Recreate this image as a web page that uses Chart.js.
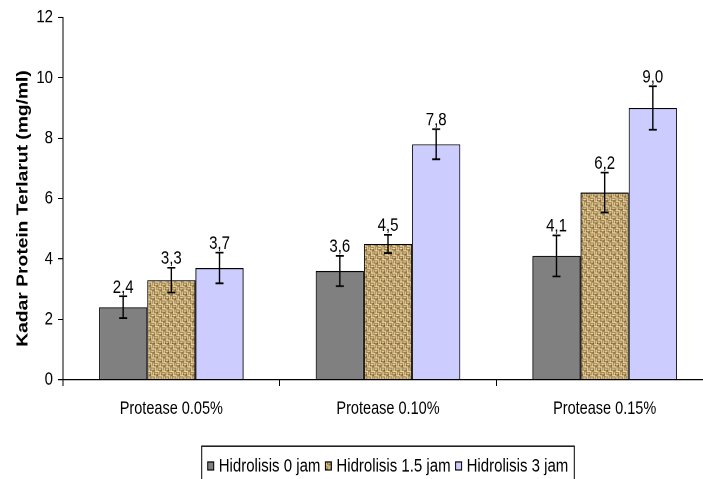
<!DOCTYPE html>
<html>
<head>
<meta charset="utf-8">
<script src="https://cdn.jsdelivr.net/npm/chart.js@4.4.1/dist/chart.umd.min.js"></script>
<style>
  html { overflow: hidden; }
  body { margin: 0; padding: 0; background: #fff; width: 703px; height: 479px; }
  /* gambar asli tampak direntang vertikal, jadi seluruh grafik direntang juga */
  #wrap { width: 716px; height: 386px; transform: scaleY(1.2409); transform-origin: 0 0; }
</style>
</head>
<body>
<div id="wrap"><canvas id="chart" width="716" height="386"></canvas></div>
<script>
const categories = ["Protease 0.05%", "Protease 0.10%", "Protease 0.15%"];
const seriesNames = ["Hidrolisis 0 jam", "Hidrolisis 1.5 jam", "Hidrolisis 3 jam"];
const jam0 = [2.4, 3.6, 4.1];
const jam15 = [3.3, 4.5, 6.2];
const jam3 = [3.7, 7.8, 9.0];
// simpangan (error bar)
const err0 = [0.36, 0.5, 0.68];
const err15 = [0.41, 0.3, 0.66];
const err3 = [0.51, 0.5, 0.72];
const yMin = 0, yMax = 12, yStep = 2;
const yTitle = "Kadar Protein Terlarut (mg/ml)";

const FONT = "'Liberation Sans', Arial, sans-serif";

const canvas = document.getElementById("chart");
const ctx = canvas.getContext("2d");

// tekstur karung (burlap) untuk seri 1.5 jam
function makeBurlap() {
  const c = document.createElement("canvas");
  c.width = 8; c.height = 8;
  const g = c.getContext("2d");
  g.fillStyle = "#9c7a44";
  g.fillRect(0, 0, 8, 8);
  for (let by = 0; by < 2; by++) {
    for (let bx = 0; bx < 2; bx++) {
      const x0 = bx * 4, y0 = by * 4;
      g.fillStyle = "#efdeae";
      if ((bx + by) % 2 === 0) {
        g.fillRect(x0, y0, 4, 1);
        g.fillRect(x0, y0 + 2, 3, 1);
      } else {
        g.fillRect(x0, y0, 1, 4);
        g.fillRect(x0 + 2, y0 + 1, 1, 3);
      }
      g.fillStyle = "#5e4320";
      g.fillRect(x0 + 3, y0 + 3, 1, 1);
    }
  }
  const p = ctx.createPattern(c, "repeat");
  p.setTransform(new DOMMatrix().scale(0.9));
  return p;
}
const burlap = makeBurlap();
const colors = ["#808080", burlap, "#ccccff"];
const errors = [err0, err15, err3];

const errorBars = {
  id: "errorBars",
  afterDatasetsDraw(chart) {
    const c = chart.ctx;
    const y = chart.scales.y;
    c.save();
    chart.data.datasets.forEach((ds, i) => {
      const meta = chart.getDatasetMeta(i);
      meta.data.forEach((bar, j) => {
        const v = ds.data[j], e = errors[i][j];
        const top = y.getPixelForValue(v + e);
        const bot = y.getPixelForValue(v - e);
        c.strokeStyle = "#000";
        c.lineWidth = 1.4;
        c.beginPath();
        c.moveTo(bar.x, top); c.lineTo(bar.x, bot);
        c.moveTo(bar.x - 4, top); c.lineTo(bar.x + 4, top);
        c.moveTo(bar.x - 4, bot); c.lineTo(bar.x + 4, bot);
        c.stroke();
        c.fillStyle = "#000";
        c.font = "15px " + FONT;
        c.textAlign = "center";
        c.textBaseline = "alphabetic";
        c.fillText(v.toFixed(1).replace(".", ","), bar.x, top - 3);
      });
    });
    c.restore();
  }
};

const extras = {
  id: "extras",
  afterDraw(chart) {
    const c = chart.ctx;
    c.save();
    // judul sumbu Y
    c.translate(23, 168);
    c.rotate(-Math.PI / 2);
    c.font = "bold 15.5px " + FONT;
    c.fillStyle = "#000";
    c.textAlign = "center";
    c.textBaseline = "middle";
    c.fillText(yTitle, 0, 0);
    c.restore();

    // legenda dengan bingkai
    c.save();
    c.font = "15px " + FONT;
    const boxW = 6, boxH = 6.5, gap = 5, space = 5, pad = 6;
    const widths = seriesNames.map(n => c.measureText(n).width);
    const total = pad * 2 + widths.reduce((a, b) => a + b, 0) +
      seriesNames.length * (boxW + gap) + space * (seriesNames.length - 1);
    const left = 388 - total / 2;
    const top = 359.5, midY = 375.5;
    c.strokeStyle = "#000";
    c.lineWidth = 1;
    c.strokeRect(left, top, total, 40);
    let x = left + pad;
    seriesNames.forEach((n, i) => {
      c.fillStyle = colors[i];
      c.fillRect(x, midY - boxH / 2, boxW, boxH);
      c.strokeRect(x, midY - boxH / 2, boxW, boxH);
      x += boxW + gap;
      c.fillStyle = "#000";
      c.textAlign = "left";
      c.textBaseline = "middle";
      c.fillText(n, x, midY + 0.5);
      x += widths[i] + space;
    });
    c.restore();
  }
};

new Chart(ctx, {
  type: "bar",
  data: {
    labels: categories,
    datasets: seriesNames.map((n, i) => ({
      label: n,
      data: [jam0, jam15, jam3][i],
      backgroundColor: colors[i],
      borderColor: "#000",
      borderWidth: 1,
      categoryPercentage: 0.667,
      barPercentage: 1
    }))
  },
  options: {
    responsive: false,
    animation: false,
    devicePixelRatio: 2,
    layout: { padding: { top: 12, right: 3, left: 0, bottom: 0 } },
    plugins: { legend: { display: false }, tooltip: { enabled: false } },
    scales: {
      x: {
        offset: true,
        grid: { display: true, drawOnChartArea: false, drawTicks: true, tickLength: 5, color: "#000", offset: true },
        border: { display: true, color: "#000", width: 1 },
        ticks: { color: "#000", font: { family: FONT, size: 14.5 }, padding: 10, maxRotation: 0 },
        afterFit(scale) { scale.height = 80; }
      },
      y: {
        min: yMin, max: yMax,
        grid: { display: true, drawOnChartArea: false, drawTicks: true, tickLength: 5, color: "#000" },
        border: { display: true, color: "#000", width: 1 },
        ticks: { stepSize: yStep, color: "#000", font: { family: FONT, size: 15 }, padding: 5 },
        afterFit(scale) { scale.width = 63; }
      }
    }
  },
  plugins: [errorBars, extras]
});
</script>
</body>
</html>
